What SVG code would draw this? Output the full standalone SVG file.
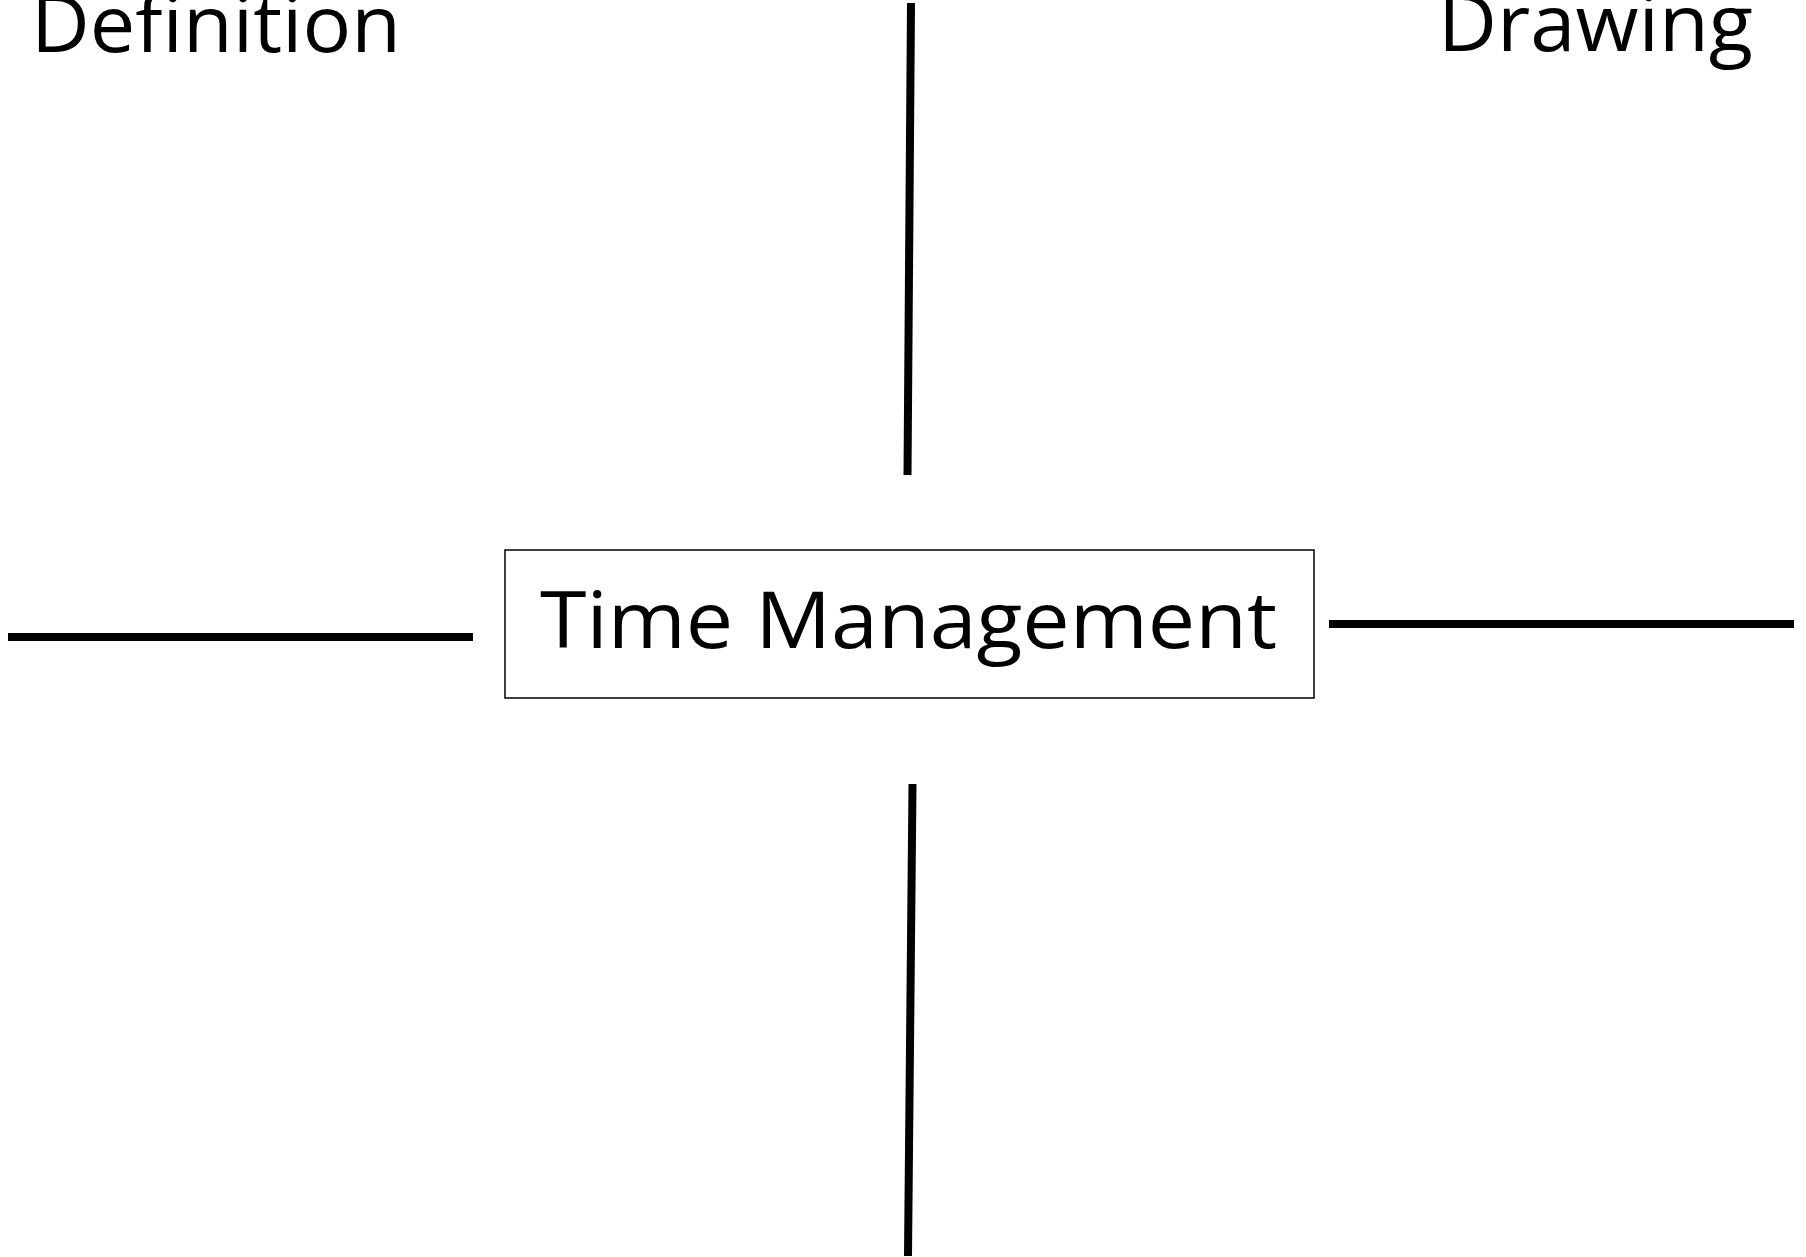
<svg xmlns="http://www.w3.org/2000/svg" width="1806" height="1257" viewBox="0 0 1806 1257">
  <style>
    .label { font-family: "Open Sans", "Noto Sans", "Liberation Sans", sans-serif; font-size: 78px; font-weight: 500; fill: #000; }
    .rule { stroke: #000; stroke-width: 8; fill: none; }
    .frame { fill: #fff; stroke: #000; stroke-width: 1.5; }
  </style>
  <rect width="1806" height="1257" fill="#fff"/>

  <!-- Quadrant divider lines -->
  <g id="connectors">
    <line class="rule" x1="911" y1="3" x2="907.5" y2="475"/>
    <line class="rule" x1="912.5" y1="784" x2="908" y2="1256"/>
    <line class="rule" x1="8" y1="637" x2="473" y2="637"/>
    <line class="rule" x1="1329" y1="624" x2="1794" y2="624"/>
  </g>

  <!-- Central topic -->
  <g id="node-center">
    <rect class="frame" x="505" y="550" width="809" height="148"/>
    <text class="label" x="540" y="648" textLength="737" lengthAdjust="spacingAndGlyphs">Time Management</text>
  </g>

  <!-- Quadrant headings -->
  <g id="node-definition">
    <text class="label" x="31" y="52" textLength="370" lengthAdjust="spacingAndGlyphs">Definition</text>
  </g>
  <g id="node-drawing">
    <text class="label" x="1438" y="51" textLength="315" lengthAdjust="spacingAndGlyphs">Drawing</text>
  </g>
</svg>
